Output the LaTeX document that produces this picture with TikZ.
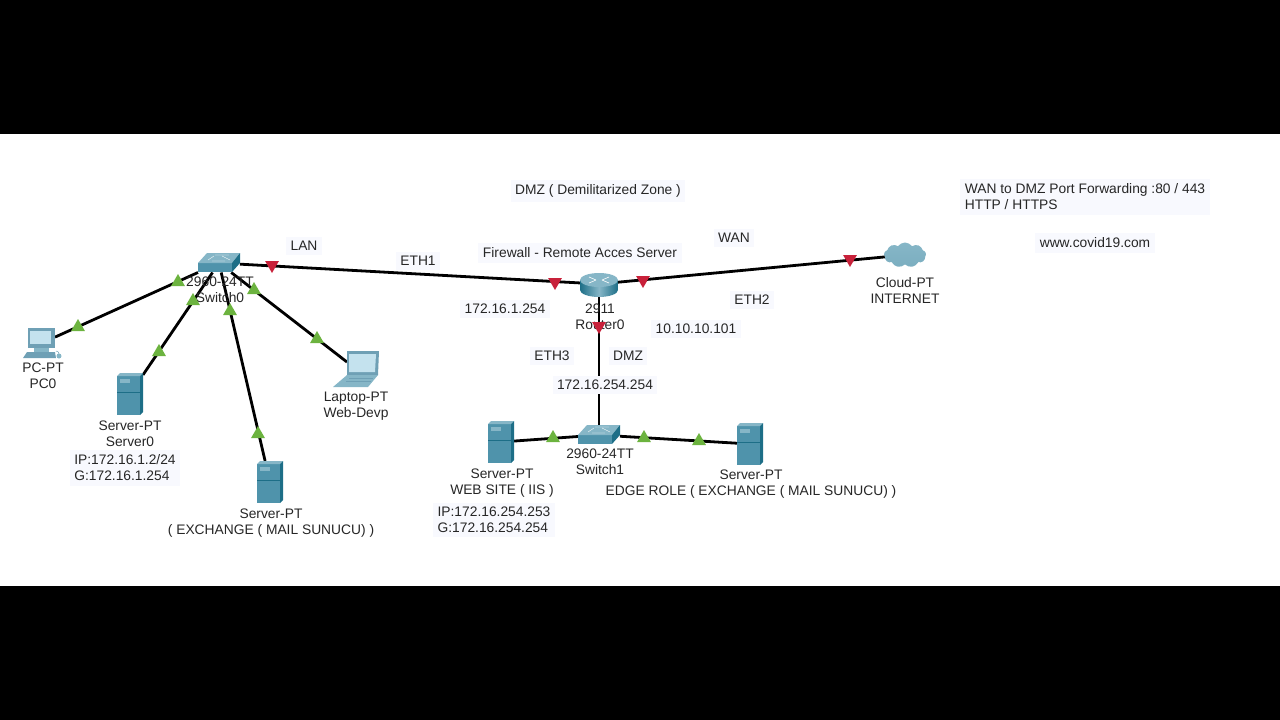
\documentclass[tikz,border=0pt]{standalone}
\usepackage{fontspec}
\setmainfont{Liberation Sans}
\usetikzlibrary{shapes.geometric,shapes.symbols}
\definecolor{srvfront}{HTML}{4F93AB}
\definecolor{srvside}{HTML}{1D6E87}
\definecolor{srvtop}{HTML}{86B6C7}
\definecolor{pcfrm}{HTML}{6FA0B5}
\definecolor{scrn}{HTML}{C4E2EE}
\definecolor{notebg}{HTML}{F8F9FE}
\definecolor{upgreen}{HTML}{6CB33F}
\definecolor{downred}{HTML}{C8213A}
\definecolor{txt}{HTML}{262626}
\tikzset{
  iconbox/.style={minimum width=#1,inner sep=0pt,outer sep=0pt},
  cable/.style={line width=2.8pt,black},
  devlbl/.style={font=\fontsize{13.8}{16}\selectfont,text=txt,align=center,inner sep=0pt,yshift=-1pt},
  notelbl/.style={devlbl,fill=notebg,inner sep=4.5pt},
  notelft/.style={notelbl,align=left},
  linkup/.style={regular polygon,regular polygon sides=3,fill=upgreen,minimum size=16pt,inner sep=0pt},
  linkdown/.style={regular polygon,regular polygon sides=3,shape border rotate=180,fill=downred,minimum size=16pt,inner sep=0pt},
  srvicon/.pic={
    \fill[srvfront] (-13,-18) rectangle (10,21);
    \fill[srvtop] (-13,-18) -- (-10,-21) -- (13,-21) -- (10,-18) -- cycle;
    \fill[srvside] (10,-18) -- (13,-21) -- (13,18) -- (10,21) -- cycle;
    \fill[srvtop] (-10,-15) rectangle (0,-11);
    \draw[srvside,line width=.4pt] (-13,-2) -- (10,-2);
  },
  swicon/.pic={
    \fill[srvfront] (-21,0) rectangle (13,9);
    \fill[srvtop] (-21,0) -- (-12,-10) -- (21,-10) -- (13,0) -- cycle;
    \fill[srvside] (13,0) -- (21,-10) -- (21,0) -- (13,9) -- cycle;
    \draw[white,line width=.4pt] (-11,-3) -- (-5,-7) (3,-7) -- (11,-3) (-7,-2) -- (6,-2) (-4,-8) -- (10,-8);
  },
  rtricon/.pic={
    \shade[left color=srvside,right color=srvside,middle color=srvtop] (-19,-4) -- (-19,6) arc[start angle=180,end angle=0,x radius=19,y radius=7] -- (19,-4) -- cycle;
    \fill[srvtop] (0,-4) ellipse[x radius=19,y radius=7];
    \draw[white,line width=.6pt] (-10,-7) -- (-3,-4) (-10,-1) -- (-3,-4) (10,-7) -- (3,-4) (10,-1) -- (3,-4);
  },
  pcicon/.pic={
    \fill[pcfrm] (-14,-15) rectangle (13,5);
    \fill[scrn] (-12,-12) rectangle (9,1);
    \fill[srvtop] (-8,5) rectangle (7,9);
    \fill[pcfrm] (-15,9) -- (13,9) -- (14,15) -- (-19,15) -- cycle;
    \draw[pcfrm,line width=.5pt] (14,8) arc[start angle=-90,end angle=60,radius=3];
    \fill[srvtop] (17,13) circle[radius=2.5];
  },
  lapicon/.pic={
    \fill[pcfrm] (-9,-18) -- (23,-18) -- (22,6) -- (-9,6) -- cycle;
    \fill[scrn] (-7,-15) -- (20,-15) -- (19,3) -- (-7,3) -- cycle;
    \fill[srvtop] (-9,6) -- (22,6) -- (12,18) -- (-23,18) -- cycle;
    \draw[pcfrm,line width=.4pt] (-7,9) -- (17,9) (-10,12) -- (15,12);
  }
}
\begin{document}
\begin{tikzpicture}[x=1pt,y=-1pt]
\useasboundingbox (0,0) rectangle (1280,720);
\fill[black] (0,0) rectangle (1280,134);
\fill[black] (0,586) rectangle (1280,720);

% devices
\node[iconbox=26,minimum height=24] (pc0) at (42,343) {};
\node[iconbox=26,minimum height=42] (srv0) at (130,394) {};
\node[iconbox=26,minimum height=42] (srvmail) at (270,482) {};
\node[iconbox=18,minimum height=14] (lap0) at (356,369) {};
\node[iconbox=42,minimum height=19] (sw0) at (219,263) {};
\node[iconbox=38,minimum height=24] (rtr0) at (599,284) {};
\node[cloud,cloud puffs=9,cloud puff arc=110,aspect=1.7,inner sep=0pt,minimum width=42,minimum height=25,top color=srvtop,bottom color=srvfront!75,outer sep=0pt] (inet) at (905,255) {};
\node[iconbox=42,minimum height=19] (sw1) at (599,435) {};
\node[iconbox=26,minimum height=42] (srvweb) at (501,442) {};
\node[iconbox=26,minimum height=42] (srvedge) at (750,444) {};

% links
\draw[cable] (sw0) -- (pc0);
\draw[cable] (sw0) -- (srv0);
\draw[cable] (sw0) -- (srvmail);
\draw[cable] (sw0) -- (lap0);
\draw[cable] (sw0) -- (rtr0);
\draw[cable] (rtr0) -- (inet);
\draw[cable] (rtr0) -- (sw1);
\draw[cable] (srvweb) -- (sw1);
\draw[cable] (sw1) -- (srvedge);

\pic at (pc0) {pcicon};
\pic at (srv0) {srvicon};
\pic at (srvmail) {srvicon};
\pic at (lap0) {lapicon};
\pic at (sw0) {swicon};
\pic at (rtr0) {rtricon};
\pic at (sw1) {swicon};
\pic at (srvweb) {srvicon};
\pic at (srvedge) {srvicon};

% device names
\node[devlbl] (lblpc) at (43,375) {PC-PT\\PC0};
\node[devlbl] (lblsrv) at (130,433) {Server-PT\\Server0};
\node[devlbl] (lblmail) at (271,522) {Server-PT\\( EXCHANGE ( MAIL SUNUCU) )};
\node[devlbl] (lbllap) at (356,405) {Laptop-PT\\Web-Devp};
\node[devlbl] (lblsw0) at (220,289) {2960-24TT\\Switch0};
\node[devlbl] (lblrtr) at (600,316) {2911\\Router0};
\node[devlbl] (lblinet) at (905,289) {Cloud-PT\\INTERNET};
\node[devlbl] (lblsw1) at (600,461) {2960-24TT\\Switch1};
\node[devlbl] (lblweb) at (502,482) {Server-PT\\WEB SITE ( IIS )};
\node[devlbl] (lbledge) at (751,483) {Server-PT\\EDGE ROLE ( EXCHANGE ( MAIL SUNUCU) )};

% notes
\node[notelbl] (dmzttl) at (598,190) {DMZ ( Demilitarized Zone )};
\node[notelbl] (lan) at (304,245) {LAN};
\node[notelbl] (eth1) at (418,260) {ETH1};
\node[notelbl] (fwall) at (580,252) {Firewall - Remote Acces Server};
\node[notelbl] (wan) at (734,237) {WAN};
\node[notelbl] (ip1) at (505,308) {172.16.1.254};
\node[notelbl] (eth2) at (752,299) {ETH2};
\node[notelbl] (ip2) at (696,328) {10.10.10.101};
\node[notelbl] (eth3) at (552,355) {ETH3};
\node[notelbl] (dmz) at (628,355) {DMZ};
\node[notelbl] (ip3) at (605,384) {172.16.254.254};
\node[notelft] (ipsrv) at (125,467) {IP:172.16.1.2/24\\G:172.16.1.254};
\node[notelft] (ipweb) at (494,519) {IP:172.16.254.253\\G:172.16.254.254};
\node[notelft] (fwd) at (1085,196) {WAN to DMZ Port Forwarding :80 / 443\\HTTP / HTTPS};
\node[notelbl] (site) at (1095,242) {www.covid19.com};

% link lights
\foreach \x/\y [count=\i] in {78/327,178/282,159/352,193/301,258/434,230/311,317/339,254/290,553/438,644/438,699/441}
  \node[linkup] (up\i) at (\x,\y) {};
\foreach \x/\y [count=\i] in {272/265,555/282,643/280,850/259,599/326}
  \node[linkdown] (dn\i) at (\x,\y) {};
\end{tikzpicture}
\end{document}
